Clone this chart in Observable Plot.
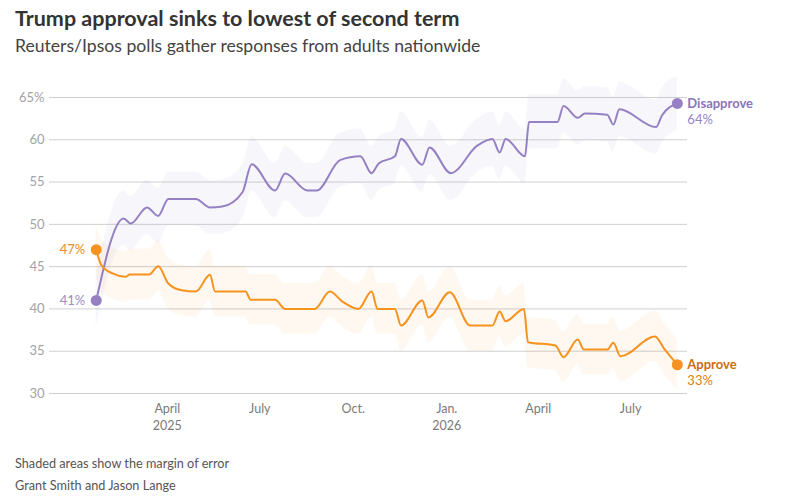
<!DOCTYPE html>
<html>
<head>
<meta charset="utf-8">
<script src="https://cdn.jsdelivr.net/npm/d3@7"></script>
<script src="https://cdn.jsdelivr.net/npm/@observablehq/plot@0.6"></script>
<style>
  html, body { margin: 0; padding: 0; background: #fff; }
  body { width: 791px; height: 499px; position: relative; overflow: hidden; font-family: Lato, "Noto Sans", sans-serif; }
  #title { position: absolute; left: 15px; top: 5px; font-size: 21.5px; font-weight: 700; color: #333; white-space: nowrap; }
  #subtitle { position: absolute; left: 15px; top: 35px; font-size: 17.6px; color: #444; white-space: nowrap; }
  #chart { position: absolute; left: 0; top: 60px; }
  .note { position: absolute; left: 15px; font-size: 12.7px; color: #555; white-space: nowrap; }
</style>
</head>
<body>
<div id="title">Trump approval sinks to lowest of second term</div>
<div id="subtitle">Reuters/Ipsos polls gather responses from adults nationwide</div>
<div id="chart"></div>
<div class="note" style="top:455px">Shaded areas show the margin of error</div>
<div class="note" style="top:477px">Grant Smith and Jason Lange</div>
<script>
// ---- Data ----
const disapproveDates = [
  "2025-01-21","2025-02-17","2025-02-24","2025-03-12","2025-03-23","2025-04-02","2025-04-29",
  "2025-05-13","2025-05-25","2025-06-14","2025-06-23","2025-07-16","2025-07-26","2025-08-17",
  "2025-08-26","2025-09-18","2025-10-08","2025-10-19","2025-10-26","2025-11-11","2025-11-17",
  "2025-12-08","2025-12-15","2026-01-05","2026-01-31","2026-02-15","2026-02-22","2026-02-28",
  "2026-03-19","2026-03-23","2026-04-20","2026-04-26","2026-05-10","2026-05-17","2026-06-08",
  "2026-06-14","2026-06-20","2026-07-26","2026-08-01","2026-08-16"
];
const disapprove = [
  41, 50.7, 50.1, 52, 51, 53, 53,
  52, 52.1, 53.8, 57.1, 54, 56, 54,
  54, 57.6, 58.05, 56.05, 57.2, 58.05, 60.1,
  57.05, 59.1, 56.05, 59.3, 60.1, 58.5, 60.1,
  58.06, 62.1, 62.1, 64, 62.6, 63.1, 62.95,
  61.8, 63.6, 61.5, 62.9, 64.3
];
const approveDates = [
  "2025-01-21","2025-01-26","2025-02-06","2025-02-19","2025-02-23","2025-03-14","2025-03-23",
  "2025-04-02","2025-04-15","2025-04-29","2025-05-13","2025-05-18","2025-06-17","2025-06-22",
  "2025-07-16","2025-07-26","2025-08-24","2025-09-08","2025-09-20","2025-10-06","2025-10-19",
  "2025-10-25","2025-11-11","2025-11-17","2025-12-08","2025-12-14","2026-01-04","2026-01-24",
  "2026-02-15","2026-02-22","2026-02-28","2026-03-18","2026-03-22","2026-04-18","2026-04-26",
  "2026-05-10","2026-05-16","2026-06-08","2026-06-14","2026-06-21","2026-07-25","2026-08-03",
  "2026-08-16"
];
const approve = [
  47, 45.2, 44.2, 43.8, 44.07, 44.07, 45.05,
  43, 42.2, 42.06, 44.03, 42.06, 42.06, 41.08,
  41.08, 40, 40, 42.06, 40.9, 40, 42.06,
  40, 40, 38.04, 41, 39, 41.98, 38.04,
  38.04, 39.7, 38.55, 40, 36.07, 35.67, 34.3,
  36.38, 35.2, 35.2, 36, 34.4, 36.74, 35.3,
  33.4
];
const marginOfErrorDisapprove = 3.2;
const marginOfErrorApprove = 3.0;
const yTicks = [30, 35, 40, 45, 50, 55, 60, 65];
const xTickDates = ["2025-04-01","2025-07-01","2025-10-01","2026-01-01","2026-04-01","2026-07-01"];
const xTickLabels = ["April\n2025","July","Oct.","Jan.\n2026","April","July"];
const xDomain = ["2024-12-06","2026-08-26"];
const seriesNames = ["Disapprove", "Approve"];
const startLabels = ["41%", "47%"];
const endLabels = ["64%", "33%"];

// ---- Build tables ----
const parse = d3.utcParse("%Y-%m-%d");
const moeOf = {Disapprove: marginOfErrorDisapprove, Approve: marginOfErrorApprove};
const dis = disapproveDates.map((d, i) => ({date: parse(d), value: disapprove[i], series: "Disapprove"}));
const app = approveDates.map((d, i) => ({date: parse(d), value: approve[i], series: "Approve"}));
const all = [...dis, ...app];
all.forEach(d => { d.lo = d.value - moeOf[d.series]; d.hi = d.value + moeOf[d.series]; });

const firsts = [dis[0], app[0]].map((d, i) => ({...d, label: startLabels[i]}));
const lasts = [dis[dis.length - 1], app[app.length - 1]].map((d, i) => ({...d, name: seriesNames[i], label: endLabels[i]}));

const lineColor = {Disapprove: "#9580c4", Approve: "#f6921e"};
const bandColor = {Disapprove: "#9580c4", Approve: "#f7941d"};
const bandOpacity = {Disapprove: 0.075, Approve: 0.065};
const nameColor = {Disapprove: "#8a74bb", Approve: "#cc6d0c"};
const pctColor = {Disapprove: "#9585c4", Approve: "#d9801e"};
const startColor = {Disapprove: "#9a8cc6", Approve: "#e68c2c"};

const tickLabelMap = new Map(xTickDates.map((d, i) => [+parse(d), xTickLabels[i]]));

const chart = Plot.plot({
  width: 791,
  height: 390,
  marginLeft: 49,
  marginRight: 104,
  marginTop: 37,
  marginBottom: 57,
  style: {fontFamily: "Lato, 'Noto Sans', sans-serif", background: "transparent"},
  x: {type: "utc", domain: xDomain.map(parse)},
  y: {domain: [30, 65]},
  marks: [
    Plot.gridY(yTicks, {stroke: "#cfcfcf", strokeOpacity: 1, strokeWidth: 1}),
    ...seriesNames.map(s => Plot.areaY(all.filter(d => d.series === s), {
      x: "date", y1: "lo", y2: "hi", fill: bandColor[s], fillOpacity: bandOpacity[s], curve: "monotone-x"
    })),
    Plot.axisY(yTicks, {
      tickSize: 0, tickPadding: 5, fontSize: 13, fill: "#a3a3a3",
      tickFormat: d => d === 65 ? d + "%" : String(d), label: null
    }),
    Plot.axisX(xTickDates.map(parse), {
      tickSize: 0, tickPadding: 8, fontSize: 12.5, fill: "#7a7a7a", lineHeight: 1.35,
      tickFormat: d => tickLabelMap.get(+d), label: null
    }),
    ...seriesNames.map(s => Plot.line(all.filter(d => d.series === s), {
      x: "date", y: "value", stroke: lineColor[s], strokeWidth: 2, curve: "monotone-x"
    })),
    Plot.dot([...firsts, ...lasts], {x: "date", y: "value", r: 5.5, fill: d => lineColor[d.series], stroke: "none"}),
    Plot.text(firsts, {x: "date", y: "value", text: "label", textAnchor: "end", dx: -11, fontSize: 13,
      fill: d => startColor[d.series]}),
    Plot.text(lasts, {x: "date", y: "value", text: "name", textAnchor: "start", dx: 10, fontSize: 13,
      fontWeight: "bold", fill: d => nameColor[d.series]}),
    Plot.text(lasts, {x: "date", y: "value", text: "label", textAnchor: "start", dx: 10, dy: 16, fontSize: 13,
      fill: d => pctColor[d.series]})
  ]
});
document.getElementById("chart").appendChild(chart);
</script>
</body>
</html>
